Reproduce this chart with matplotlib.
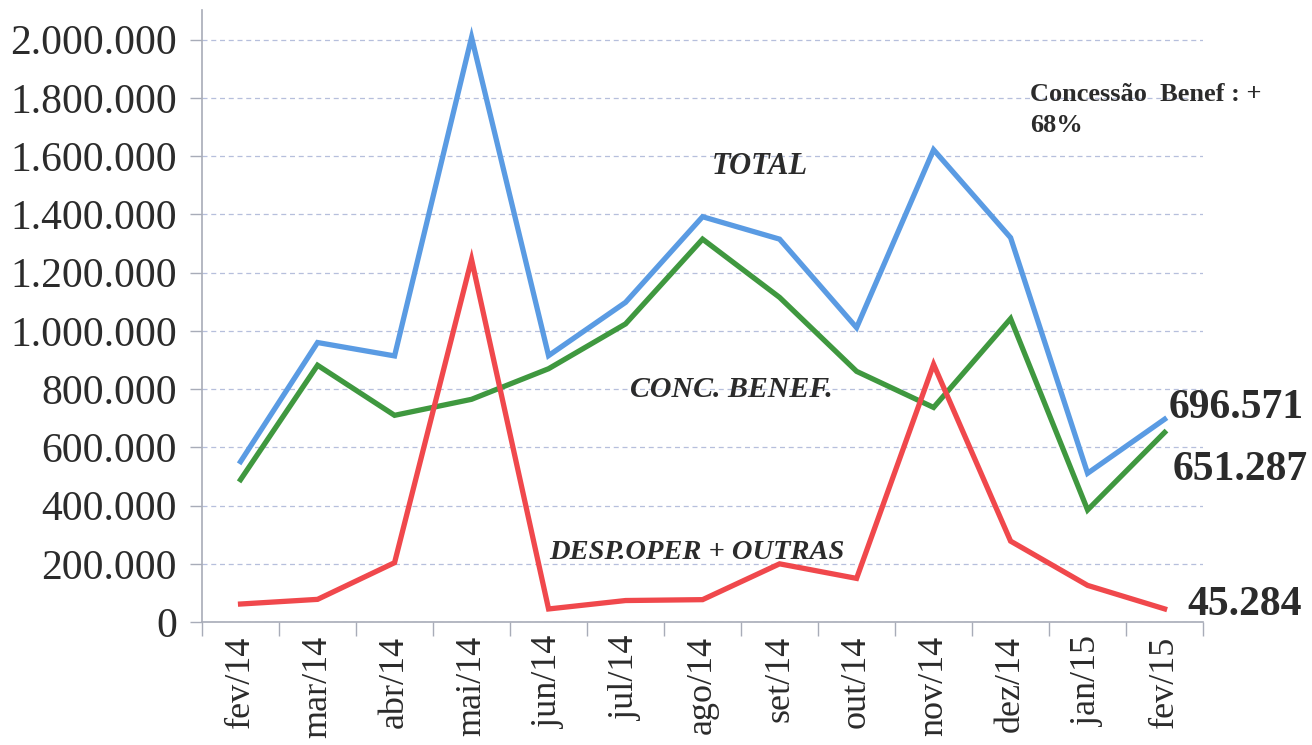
import matplotlib
matplotlib.use("Agg")
import matplotlib.pyplot as plt
from matplotlib.ticker import FuncFormatter, FixedLocator

months = ["fev/14", "mar/14", "abr/14", "mai/14", "jun/14", "jul/14", "ago/14",
          "set/14", "out/14", "nov/14", "dez/14", "jan/15", "fev/15"]
total = [551000, 960000, 914000, 2008000, 915000, 1098000, 1392000,
         1315000, 1011000, 1622000, 1320000, 511000, 696571]
conc = [489000, 882000, 710000, 765000, 870000, 1024000, 1315000,
        1115000, 861000, 737000, 1042000, 385000, 651287]
desp = [62000, 78000, 204000, 1245000, 45000, 74000, 77000,
        200000, 150000, 885000, 278000, 126000, 45284]
yticks = [0, 200000, 400000, 600000, 800000, 1000000, 1200000, 1400000,
          1600000, 1800000, 2000000]

SERIF = ["Liberation Serif", "DejaVu Serif"]
TXT = "#2b2b2b"

fig = plt.figure(figsize=(13.12, 7.45), dpi=100)
ax = fig.add_axes([0.154, 0.165, 0.763, 0.822])

x = list(range(len(months)))
ax.plot(x, total, color="#5a9be3", lw=3.8, solid_joinstyle="miter", zorder=3)
ax.plot(x, conc, color="#3f983f", lw=3.8, solid_joinstyle="miter", zorder=3)
ax.plot(x, desp, color="#f0484c", lw=3.8, solid_joinstyle="miter", zorder=3)

ax.set_xlim(-0.5, len(months) - 0.5)
ax.set_ylim(0, 2103000)

ax.set_yticks(yticks)
ax.yaxis.set_major_formatter(FuncFormatter(lambda v, p: f"{int(v):,}".replace(",", ".")))
ax.set_xticks(x)
ax.set_xticklabels(months, rotation=90)
ax.xaxis.set_minor_locator(FixedLocator([i - 0.5 for i in range(len(months) + 1)]))

for lab in ax.get_yticklabels():
    lab.set_fontfamily(SERIF)
    lab.set_fontsize(30)
    lab.set_color(TXT)
for lab in ax.get_xticklabels():
    lab.set_fontfamily(SERIF)
    lab.set_fontsize(26)
    lab.set_color(TXT)

ax.tick_params(axis="y", direction="out", length=9, width=1, color="#a8acb8", pad=9)
ax.tick_params(axis="x", which="major", length=0, pad=10)
ax.tick_params(axis="x", which="minor", direction="out", length=10, width=1, color="#a8acb8")

for s in ["top", "right"]:
    ax.spines[s].set_visible(False)
for s in ["left", "bottom"]:
    ax.spines[s].set_color("#a8acb8")
    ax.spines[s].set_linewidth(1.2)

ax.yaxis.grid(True, linestyle=(0, (4, 3)), color="#b6bfdc", lw=0.9)
ax.set_axisbelow(True)

bi = dict(fontfamily=SERIF, fontweight="bold", fontstyle="italic", color=TXT)
ax.text(6.75, 1564000, "TOTAL", ha="center", va="center", fontsize=22, **bi)
ax.text(6.37, 797000, "CONC. BENEF.", ha="center", va="center", fontsize=21.5, **bi)
ax.text(5.93, 240000, "DESP.OPER + OUTRAS", ha="center", va="center", fontsize=20.5, **bi)

ax.text(10.25, 1759000, "Concessão  Benef : +\n68%", ha="left", va="center",
        fontsize=19, fontfamily=SERIF, fontweight="bold", color=TXT, linespacing=1.45)

b = dict(fontfamily=SERIF, fontweight="bold", color=TXT, fontsize=30, ha="left", va="center")
ax.text(12.05, 735000, "696.571", **b)
ax.text(12.10, 522000, "651.287", **b)
ax.text(12.30, 58000, "45.284", **b)

fig.savefig("out.png", dpi=100, facecolor="white")
